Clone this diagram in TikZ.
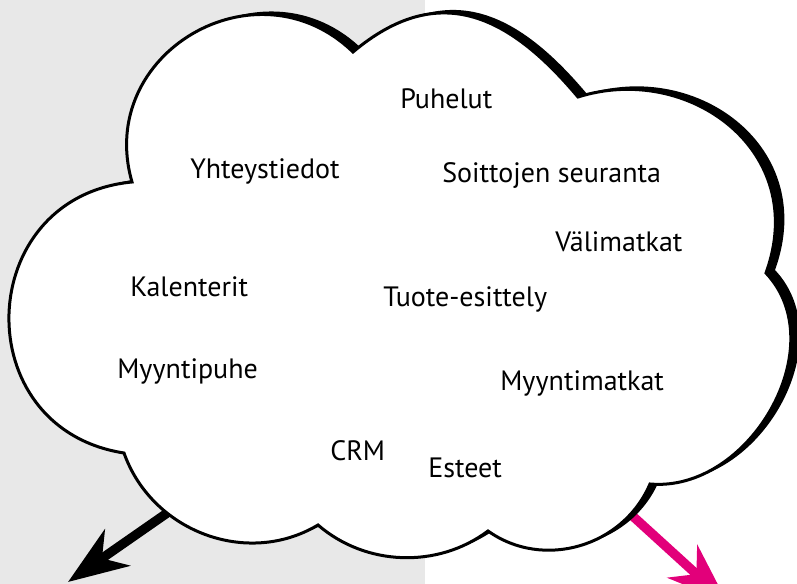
\documentclass[tikz,border=0pt]{standalone}
\usepackage{fontspec}
\setmainfont{PT Sans}
\usetikzlibrary{arrows.meta,positioning}
\definecolor{BackGray}{RGB}{232,232,232}
\definecolor{Rubine}{RGB}{226,0,122}
\newcommand{\cloudpath}{(132,182) .. controls +(253.9:134) and +(224.1:134) .. (353,52)
  .. controls +(320:110) and +(230:110) .. (578,97)
  .. controls +(342.5:116) and +(290:130) .. (766,273)
  .. controls +(46.7:100) and +(5:100) .. (650,484)
  .. controls +(113.1:68) and +(35.4:68) .. (488,531)
  .. controls +(143.1:63) and +(40.8:63) .. (318,525)
  .. controls +(149.1:83) and +(70.5:83) .. (124,453)
  .. controls +(188.8:160) and +(174.5:160) .. (132,182) -- cycle}

\begin{document}
\begin{tikzpicture}[x=0.75pt,y=-0.75pt,
    word/.style={anchor=base west, inner sep=0pt, font=\fontsize{21}{25}\selectfont},
    cloudedge/.style={draw=black, line width=2.25pt, fill=white, line join=miter},
    cloudshadow/.style={fill=black, shift={(9,-3)}},
    bigarrow/.style={line width=7pt, -{Stealth[length=45pt 0 0, width=33pt 0 0, inset=14pt]}}]
  \useasboundingbox (0,0) rectangle (797,584);
  \clip (0,0) rectangle (797,584);
  \fill[BackGray] (0,0) rectangle (425,584);

  \coordinate (leftstart) at (183,502);
  \coordinate (lefttip) at (68,582);
  \coordinate (rightstart) at (615,500);
  \coordinate (righttip) at (727,602);
  \draw[bigarrow, black] (leftstart) -- (lefttip);
  \draw[bigarrow, Rubine] (rightstart) -- (righttip);

  \fill[cloudshadow] \cloudpath;
  \draw[cloudedge] \cloudpath;

  \node[word] (puhelut) at (400,109) {Puhelut};
  \node[word] (yhteys) at (190,179) {Yhteystiedot};
  \node[word] (soitot) at (442,183) {Soittojen seuranta};
  \node[word] (vali) at (555,252) {Välimatkat};
  \node[word] (kalenteri) at (130,297) {Kalenterit};
  \node[word] (tuote) at (383,307) {Tuote-esittely};
  \node[word] (puhe) at (117,379) {Myyntipuhe};
  \node[word] (matkat) at (500,391) {Myyntimatkat};
  \node[word] (crm) at (330,461) {CRM};
  \node[word] (esteet) at (428,478) {Esteet};
\end{tikzpicture}
\end{document}
